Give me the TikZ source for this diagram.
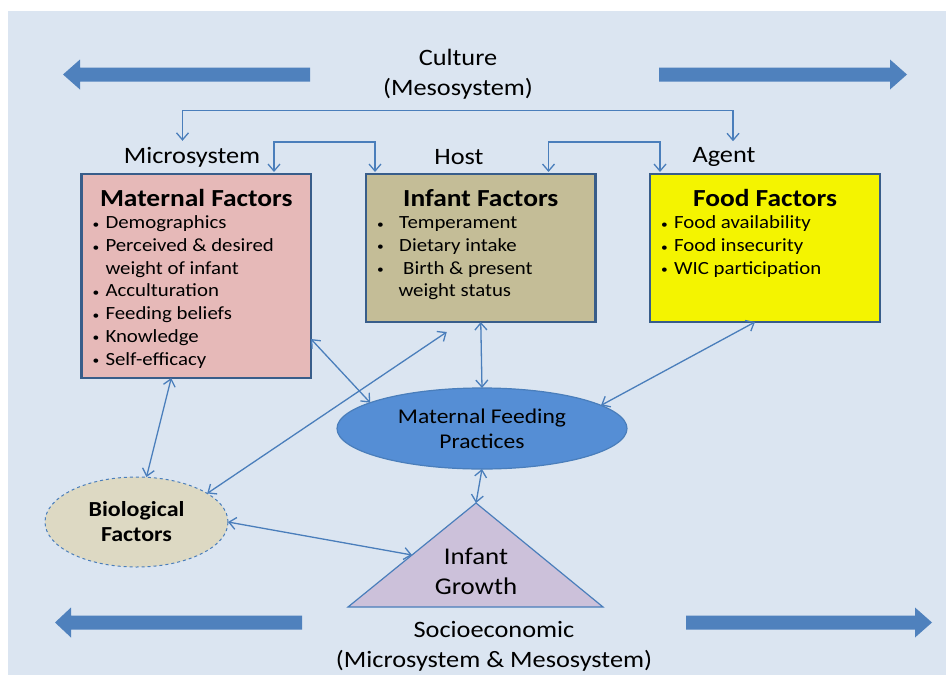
\documentclass[tikz,border=0pt]{standalone}
\usepackage{fontspec}
\setmainfont{Carlito}[FakeStretch=1.12]
\usetikzlibrary{arrows.meta,positioning,shapes.geometric}

\definecolor{panelbg}{HTML}{DBE5F1}
\definecolor{bigblue}{HTML}{4F81BD}
\definecolor{linkblue}{HTML}{4A7EBB}
\definecolor{edgeblue}{HTML}{385D8A}
\definecolor{matfill}{HTML}{E6B9B8}
\definecolor{inffill}{HTML}{C4BD97}
\definecolor{foodfill}{HTML}{F4F400}
\definecolor{mfpfill}{HTML}{558ED5}
\definecolor{biofill}{HTML}{DDD9C3}
\definecolor{growfill}{HTML}{CCC1DA}

% bullet line with hanging indent
\newcommand{\bitem}[1][16pt]{\par\noindent\hangindent=#1\hangafter=1%
  \makebox[#1][l]{\hspace*{3pt}\raisebox{0.5pt}{\fontsize{12}{12}\selectfont\textbullet}}}

\begin{document}
\begin{tikzpicture}[x=1pt,y=-1pt,
    lbl/.style={inner sep=0pt, font=\fontsize{23.5}{30}\selectfont, align=center},
    factbox/.style={draw=edgeblue, line width=2.5pt, inner xsep=8pt, inner ysep=15pt, outer sep=0pt},
    link/.style={draw=linkblue, line width=1.3pt, {Straight Barb[length=7pt,width=12pt]}-{Straight Barb[length=7pt,width=12pt]}},
    oval/.style={ellipse, inner sep=0pt, outer sep=0pt, align=center}]

  \useasboundingbox (0,0) rectangle (948,675);
  \fill[white] (0,0) rectangle (948,675);
  \fill[panelbg] (8,11) rectangle (946,675);

  % wide arrows of culture and socioeconomic
  \foreach \tail/\back/\tip/\yy in {310/80/63/74.5, 659/890/907/74.5, 302/71/55/622.5, 686/915/932/622.5}
    \fill[bigblue] (\tail,\yy-7) -- (\back,\yy-7) -- (\back,\yy-15) -- (\tip,\yy)
      -- (\back,\yy+15) -- (\back,\yy+7) -- (\tail,\yy+7) -- cycle;

  \node[lbl] (culture) at (458,74) {Culture\\(Mesosystem)};
  \node[lbl] (socio) at (494,646) {Socioeconomic\\(Microsystem \& Mesosystem)};

  \node[lbl] (micro) at (192,157) {Microsystem};
  \node[lbl] (host) at (459,157) {Host};
  \node[lbl] (agent) at (724,157) {Agent};

  % factor boxes
  \node[factbox, fill=matfill] (mat) at (196.25,276) {\parbox[c][174pt][t]{213.5pt}{%
    \centering{\fontsize{24.5}{28}\selectfont\bfseries Maternal Factors\par}
    \raggedright\fontsize{18.6}{22.7}\selectfont
    \bitem Demographics
    \bitem Perceived \& desired weight of infant
    \bitem Acculturation
    \bitem Feeding beliefs
    \bitem Knowledge
    \bitem Self-efficacy\par}};
  \node[factbox, fill=inffill] (inf) at (480.75,248) {\parbox[c][118pt][t]{213.5pt}{%
    \centering{\fontsize{24.5}{28}\selectfont\bfseries Infant Factors\par}
    \raggedright\fontsize{18.6}{22.7}\selectfont
    \bitem[20.5pt] Temperament
    \bitem[20.5pt] Dietary intake
    \bitem[24.5pt] Birth \& present\newline weight status\par}};
  \node[factbox, fill=foodfill] (food) at (765,248) {\parbox[c][118pt][t]{214pt}{%
    \centering{\fontsize{24.5}{28}\selectfont\bfseries Food Factors\par}
    \raggedright\fontsize{18.6}{22.7}\selectfont
    \bitem Food availability
    \bitem Food insecurity
    \bitem WIC participation\par}};

  \node[oval, draw=linkblue, line width=1.2pt, fill=mfpfill, minimum width=290, minimum height=81,
        font=\fontsize{21}{25}\selectfont] (mfp) at (482,428.5) {Maternal Feeding\\Practices};
  \node[oval, draw=linkblue, dashed, line width=1pt, fill=biofill, minimum width=183, minimum height=90,
        font=\fontsize{21.4}{25}\selectfont\bfseries] (bio) at (136.5,522) {Biological\\Factors};

  % infant growth triangle
  \coordinate (apex) at (476,503);
  \coordinate (baseL) at (348,607);
  \coordinate (baseR) at (603,607);
  \coordinate (growleft) at (412,555);
  \draw[linkblue, line width=1.2pt, fill=growfill] (apex) -- (baseR) -- (baseL) -- cycle;
  \node[lbl, font=\fontsize{24}{30}\selectfont] (growth) at (476,571) {Infant\\Growth};

  % connectors
  \draw[link] ([xshift=-9.5pt,yshift=6pt]micro.north) -- ++(0,-30) -| ([xshift=9pt,yshift=6pt]agent.north);
  \draw[link] ([xshift=-37pt,yshift=2pt]mat.north east) -- ++(0,-30) -| ([xshift=9pt,yshift=2pt]inf.north west);
  \draw[link] ([xshift=-47pt,yshift=2pt]inf.north east) -- ++(0,-30) -| ([xshift=10pt,yshift=2pt]food.north west);
  \draw[link] ([yshift=-63pt]mat.east) -- (mfp.167);
  \draw[link] ([xshift=-34pt,yshift=-10pt]inf.south) -- (bio.22);
  \draw[link] (inf.south) -- (mfp.north);
  \draw[link] ([xshift=-10pt]food.south) -- (mfp.11);
  \draw[link] ([xshift=-25pt]mat.south) -- ([xshift=10pt]bio.north);
  \draw[link] (mfp.south) -- (apex);
  \draw[link] (bio.east) -- (growleft);
\end{tikzpicture}
\end{document}
